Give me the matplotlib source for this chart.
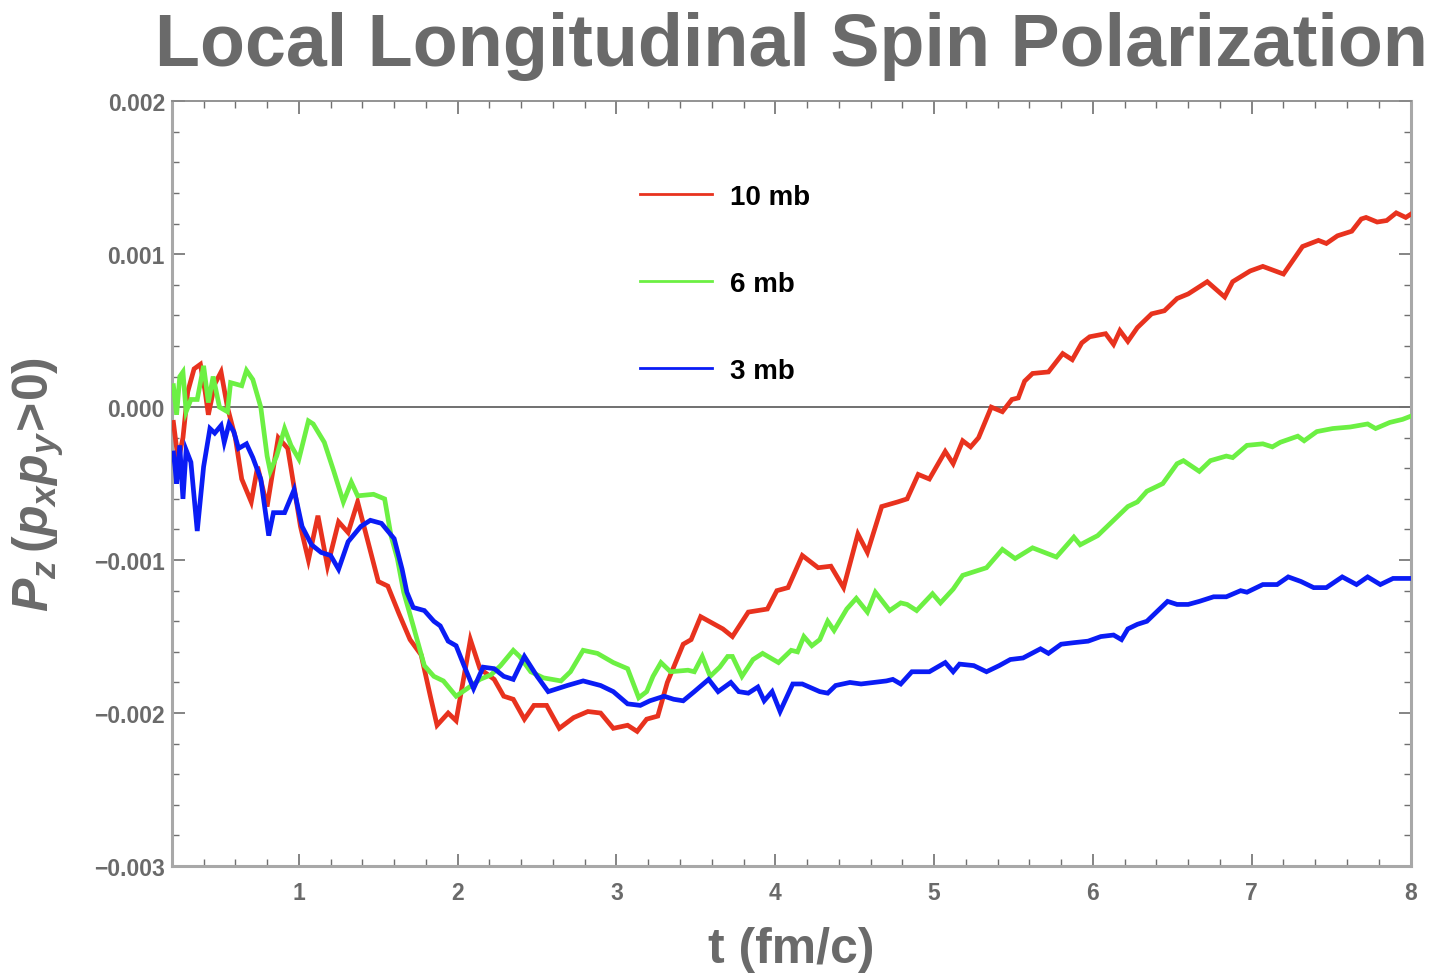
import numpy as np
import matplotlib
matplotlib.use('Agg')
import matplotlib.pyplot as plt
from matplotlib.lines import Line2D
from matplotlib.ticker import MultipleLocator, FixedFormatter, FixedLocator

plt.rcParams['font.family'] = ['Liberation Sans', 'DejaVu Sans']
plt.rcParams['mathtext.fontset'] = 'custom'
plt.rcParams['mathtext.rm'] = 'Liberation Sans:bold'
plt.rcParams['mathtext.it'] = 'Liberation Sans:bold:italic'
plt.rcParams['mathtext.bf'] = 'Liberation Sans:bold'

GRAY = '#6a6a6a'

# P_z in units of 1e-3, time in fm/c
t_10mb = [0.21, 0.24, 0.27, 0.30, 0.34, 0.38, 0.41, 0.43, 0.47, 0.51, 0.55, 0.60, 0.64, 0.70,
          0.74, 0.80, 0.87, 0.93, 1.01, 1.06, 1.12, 1.18, 1.25, 1.31, 1.37, 1.43, 1.50, 1.56,
          1.63, 1.70, 1.77, 1.83, 1.87, 1.94, 1.99, 2.05, 2.08, 2.14, 2.23, 2.29, 2.35, 2.42,
          2.48, 2.56, 2.64, 2.73, 2.82, 2.90, 2.98, 3.07, 3.13, 3.19, 3.26, 3.32, 3.42, 3.47,
          3.53, 3.60, 3.67, 3.73, 3.83, 3.95, 4.01, 4.08, 4.17, 4.27, 4.35, 4.43, 4.52, 4.58,
          4.67, 4.77, 4.83, 4.90, 4.97, 5.07, 5.12, 5.18, 5.23, 5.28, 5.36, 5.43, 5.49, 5.53,
          5.57, 5.62, 5.72, 5.81, 5.87, 5.93, 5.98, 6.08, 6.13, 6.17, 6.22, 6.28, 6.37, 6.45,
          6.53, 6.60, 6.72, 6.83, 6.88, 6.99, 7.07, 7.20, 7.32, 7.42, 7.47, 7.54, 7.63, 7.69,
          7.72, 7.79, 7.85, 7.91, 7.97, 8.00]
pz_10mb = [-0.10, -0.35, -0.20, 0.10, 0.25, 0.28, 0.10, -0.05, 0.15, 0.23, 0.00, -0.20, -0.47, -0.62,
           -0.39, -0.65, -0.20, -0.27, -0.78, -1.00, -0.71, -1.04, -0.75, -0.82, -0.62, -0.86, -1.14, -1.17,
           -1.35, -1.52, -1.62, -1.90, -2.08, -2.00, -2.05, -1.70, -1.52, -1.71, -1.78, -1.89, -1.91, -2.04,
           -1.95, -1.95, -2.10, -2.03, -1.99, -2.00, -2.10, -2.08, -2.12, -2.04, -2.02, -1.80, -1.55, -1.52,
           -1.37, -1.41, -1.45, -1.50, -1.34, -1.32, -1.20, -1.18, -0.97, -1.05, -1.04, -1.18, -0.83, -0.95,
           -0.65, -0.62, -0.60, -0.44, -0.47, -0.29, -0.37, -0.22, -0.26, -0.20, 0.00, -0.03, 0.05, 0.06,
           0.17, 0.22, 0.23, 0.35, 0.31, 0.42, 0.46, 0.48, 0.41, 0.50, 0.43, 0.52, 0.61, 0.63,
           0.71, 0.74, 0.82, 0.72, 0.82, 0.89, 0.92, 0.87, 1.05, 1.09, 1.07, 1.12, 1.15, 1.23,
           1.24, 1.21, 1.22, 1.27, 1.24, 1.26]

t_6mb = [0.21, 0.23, 0.25, 0.27, 0.29, 0.32, 0.36, 0.40, 0.43, 0.46, 0.50, 0.55, 0.57, 0.64,
         0.67, 0.71, 0.76, 0.80, 0.82, 0.86, 0.91, 0.95, 1.00, 1.06, 1.09, 1.16, 1.22, 1.28,
         1.33, 1.37, 1.47, 1.54, 1.58, 1.62, 1.66, 1.72, 1.79, 1.85, 1.91, 1.99, 2.06, 2.14,
         2.21, 2.27, 2.35, 2.39, 2.46, 2.54, 2.65, 2.71, 2.79, 2.88, 2.98, 3.07, 3.14, 3.19,
         3.23, 3.28, 3.34, 3.45, 3.49, 3.54, 3.59, 3.65, 3.70, 3.73, 3.79, 3.86, 3.92, 4.02,
         4.10, 4.14, 4.18, 4.23, 4.28, 4.33, 4.37, 4.45, 4.51, 4.58, 4.63, 4.72, 4.79, 4.83,
         4.89, 4.99, 5.04, 5.12, 5.18, 5.33, 5.43, 5.51, 5.62, 5.77, 5.88, 5.92, 6.03, 6.15,
         6.22, 6.28, 6.34, 6.44, 6.53, 6.57, 6.67, 6.74, 6.84, 6.88, 6.97, 7.07, 7.13, 7.18,
         7.29, 7.33, 7.41, 7.51, 7.62, 7.73, 7.78, 7.87, 7.95, 8.00]
pz_6mb = [0.14, -0.05, 0.20, 0.23, -0.03, 0.05, 0.05, 0.27, 0.03, 0.20, 0.00, -0.03, 0.16, 0.14,
          0.24, 0.18, 0.00, -0.32, -0.42, -0.32, -0.14, -0.25, -0.34, -0.09, -0.11, -0.23, -0.42, -0.62,
          -0.49, -0.58, -0.57, -0.60, -0.84, -0.99, -1.21, -1.43, -1.69, -1.76, -1.79, -1.89, -1.84, -1.78,
          -1.75, -1.69, -1.59, -1.63, -1.73, -1.77, -1.79, -1.73, -1.59, -1.61, -1.67, -1.71, -1.90, -1.86,
          -1.76, -1.67, -1.73, -1.72, -1.73, -1.63, -1.76, -1.70, -1.63, -1.63, -1.76, -1.65, -1.61, -1.67,
          -1.59, -1.60, -1.50, -1.56, -1.52, -1.40, -1.46, -1.32, -1.25, -1.34, -1.21, -1.33, -1.28, -1.29,
          -1.33, -1.22, -1.28, -1.19, -1.10, -1.05, -0.93, -0.99, -0.92, -0.98, -0.85, -0.90, -0.84, -0.72,
          -0.65, -0.62, -0.55, -0.50, -0.37, -0.35, -0.42, -0.35, -0.32, -0.33, -0.25, -0.24, -0.26, -0.23,
          -0.19, -0.22, -0.16, -0.14, -0.13, -0.11, -0.14, -0.10, -0.08, -0.06]

t_3mb = [0.21, 0.22, 0.23, 0.25, 0.27, 0.29, 0.32, 0.36, 0.40, 0.44, 0.47, 0.51, 0.53, 0.56,
         0.59, 0.62, 0.67, 0.71, 0.76, 0.81, 0.84, 0.91, 0.97, 1.02, 1.08, 1.14, 1.20, 1.25,
         1.31, 1.39, 1.45, 1.52, 1.60, 1.65, 1.68, 1.72, 1.79, 1.85, 1.89, 1.94, 1.99, 2.04,
         2.10, 2.16, 2.23, 2.29, 2.35, 2.42, 2.50, 2.57, 2.69, 2.79, 2.90, 2.98, 3.07, 3.15,
         3.21, 3.30, 3.36, 3.42, 3.49, 3.58, 3.64, 3.72, 3.77, 3.83, 3.89, 3.93, 3.98, 4.03,
         4.11, 4.17, 4.28, 4.33, 4.38, 4.47, 4.54, 4.62, 4.70, 4.74, 4.79, 4.86, 4.97, 5.07,
         5.12, 5.16, 5.25, 5.33, 5.41, 5.48, 5.56, 5.67, 5.72, 5.80, 5.88, 5.97, 6.05, 6.13,
         6.18, 6.22, 6.28, 6.34, 6.40, 6.47, 6.53, 6.60, 6.67, 6.76, 6.84, 6.93, 6.97, 7.07,
         7.16, 7.23, 7.31, 7.39, 7.47, 7.57, 7.66, 7.73, 7.81, 7.89, 8.00]
pz_3mb = [-0.30, -0.39, -0.50, -0.25, -0.60, -0.28, -0.36, -0.81, -0.39, -0.14, -0.17, -0.12, -0.23, -0.11,
          -0.16, -0.27, -0.24, -0.33, -0.47, -0.84, -0.69, -0.69, -0.54, -0.78, -0.90, -0.95, -0.97, -1.06,
          -0.88, -0.78, -0.74, -0.76, -0.86, -1.06, -1.21, -1.31, -1.33, -1.40, -1.43, -1.53, -1.56, -1.69,
          -1.84, -1.70, -1.71, -1.76, -1.78, -1.63, -1.76, -1.86, -1.82, -1.79, -1.82, -1.86, -1.94, -1.95,
          -1.92, -1.89, -1.91, -1.92, -1.86, -1.78, -1.86, -1.80, -1.86, -1.87, -1.83, -1.92, -1.86, -1.99,
          -1.81, -1.81, -1.86, -1.87, -1.82, -1.80, -1.81, -1.80, -1.79, -1.78, -1.81, -1.73, -1.73, -1.67,
          -1.73, -1.68, -1.69, -1.73, -1.69, -1.65, -1.64, -1.58, -1.61, -1.55, -1.54, -1.53, -1.50, -1.49,
          -1.52, -1.45, -1.42, -1.40, -1.34, -1.27, -1.29, -1.29, -1.27, -1.24, -1.24, -1.20, -1.21, -1.16,
          -1.16, -1.11, -1.14, -1.18, -1.18, -1.11, -1.16, -1.11, -1.16, -1.12, -1.12]

labels = ['10 mb', '6 mb', '3 mb']
colors = ['#e8321e', '#6cf043', '#0a1cf5']
y_ticks = [0.002, 0.001, 0.0, -0.001, -0.002, -0.003]
y_ticklabels = ['0.002', '0.001', '0.000', '\u22120.001', '\u22120.002', '\u22120.003']

fig = plt.figure(figsize=(14.32, 9.78), dpi=100)
ax = fig.add_axes([0.120, 0.1135, 0.865, 0.782])

series = [(t_10mb, pz_10mb), (t_6mb, pz_6mb), (t_3mb, pz_3mb)]
for (t, pz), c in zip(series, colors):
    ax.plot(t, np.array(pz) * 1e-3, color=c, lw=3.4, solid_joinstyle='miter', zorder=3)

ax.axhline(0, color='#707070', lw=1.4, zorder=2)

ax.set_xlim(0.2, 8.0)
ax.set_ylim(-0.003, 0.002)

# frame and ticks
for side, sp in ax.spines.items():
    sp.set_color('#a8a8a8')
    sp.set_linewidth(2.2)
ax.spines['top'].set_color('#8a8a8a')
ax.spines['top'].set_linewidth(1.3)

ax.xaxis.set_major_locator(FixedLocator([1, 2, 3, 4, 5, 6, 7, 8]))
ax.xaxis.set_minor_locator(MultipleLocator(0.2))
ax.yaxis.set_major_locator(FixedLocator(y_ticks))
ax.yaxis.set_major_formatter(FixedFormatter(y_ticklabels))
ax.yaxis.set_minor_locator(MultipleLocator(0.0002))
ax.tick_params(which='both', direction='in', top=True, right=True, color='#707070')
ax.tick_params(which='major', length=9, width=1.2, labelsize=16.5, labelcolor=GRAY)
ax.tick_params(which='minor', length=5, width=1.0)
ax.tick_params(axis='y', which='major', pad=5)
ax.tick_params(axis='x', which='major', pad=11)
for lab in ax.get_xticklabels() + ax.get_yticklabels():
    lab.set_fontweight('bold')

ax.set_xlabel('t (fm/c)', fontsize=36, fontweight='bold', color=GRAY, labelpad=16)
ax.set_ylabel(r'$P_z\,(p_x p_y\!>\!0)$', fontsize=36, color=GRAY, labelpad=20)

fig.text(0.553, 0.952, 'Local Longitudinal Spin Polarization', ha='center', va='center',
         fontsize=53, fontweight='bold', color=GRAY)

handles = [Line2D([], [], color=c, lw=2.0) for c in colors]
ax.legend(handles, labels, loc='upper left', bbox_to_anchor=(0.378, 0.892), frameon=False,
          prop={'weight': 'bold', 'size': 20}, handlelength=2.6, handletextpad=0.65,
          labelspacing=2.2, borderaxespad=0, borderpad=0)

fig.savefig('out.png', dpi=100, facecolor='white')
